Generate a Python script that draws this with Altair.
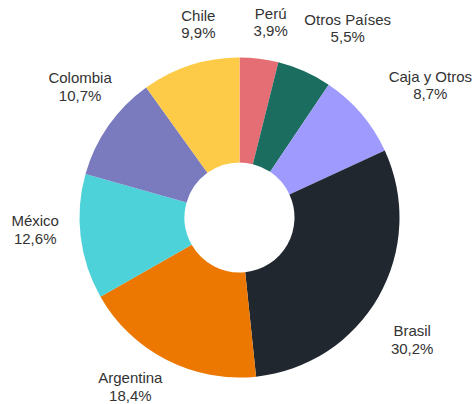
import math
import altair as alt
import pandas as pd

countries = ["Perú", "Otros Países", "Caja y Otros", "Brasil", "Argentina", "México", "Colombia", "Chile"]
values = [3.9, 5.5, 8.7, 30.2, 18.4, 12.6, 10.7, 9.9]
colors = ["#E56E74", "#1B6E5F", "#9F9BFE", "#20272F", "#EC7701", "#4DD2D9", "#7A7BBE", "#FDCB47"]

df = pd.DataFrame({"country": countries, "value": values, "ord": list(range(len(countries)))})
total = float(sum(values))
theta_scale = alt.Scale(domain=[0, total], range=[0, 2 * math.pi])
label_theta_scale = alt.Scale(domain=[0, 2 * math.pi], range=[0, 2 * math.pi])
color_scale = alt.Scale(domain=countries, range=colors)

base = alt.Chart(df)

arcs = base.mark_arc(innerRadius=55, outerRadius=160).encode(
    theta=alt.Theta("value:Q", stack=True, scale=theta_scale),
    color=alt.Color("country:N", scale=color_scale, legend=None),
    order=alt.Order("ord:Q"),
)

labels = base.transform_window(
    cum="sum(value)", sort=[alt.SortField("ord")], frame=[None, 0]
).transform_calculate(
    a=f"2 * PI * (datum.cum - datum.value / 2) / {total}",
    pct="replace(format(datum.value, '.1f'), '.', ',') + '%'",
).transform_calculate(
    ang="datum.a + (6 - 3 * pow(max(0, -sin(datum.a)), 2)) * min(1, datum.a / 0.35) * PI / 180",
    hw="max(length(datum.country), length(datum.pct)) * 3.6",
    label="datum.country + '\\n' + datum.pct",
).transform_calculate(
    s="sin(datum.ang)",
).transform_calculate(
    r="194 + (datum.s > 0 ? 1.05 : 0.5) * datum.hw * abs(datum.s)",
).mark_text(
    align="center", baseline="middle", lineBreak="\n", dy=-10,
    font="Liberation Sans", fontSize=15, color="#333333", lineHeight=17.5,
).encode(
    theta=alt.Theta("ang:Q", stack=None, scale=label_theta_scale),
    radius=alt.Radius("r:Q", scale=None),
    text="label:N",
)

chart = alt.layer(arcs, labels).resolve_scale(theta="independent").properties(
    width=465, height=373,
    padding={"left": 7, "top": 31, "right": 0, "bottom": 0},
    autosize=alt.AutoSizeParams(type="none"),
).configure_view(stroke=None)

chart.save("out.html", embed_options={"renderer": "svg", "actions": False})
